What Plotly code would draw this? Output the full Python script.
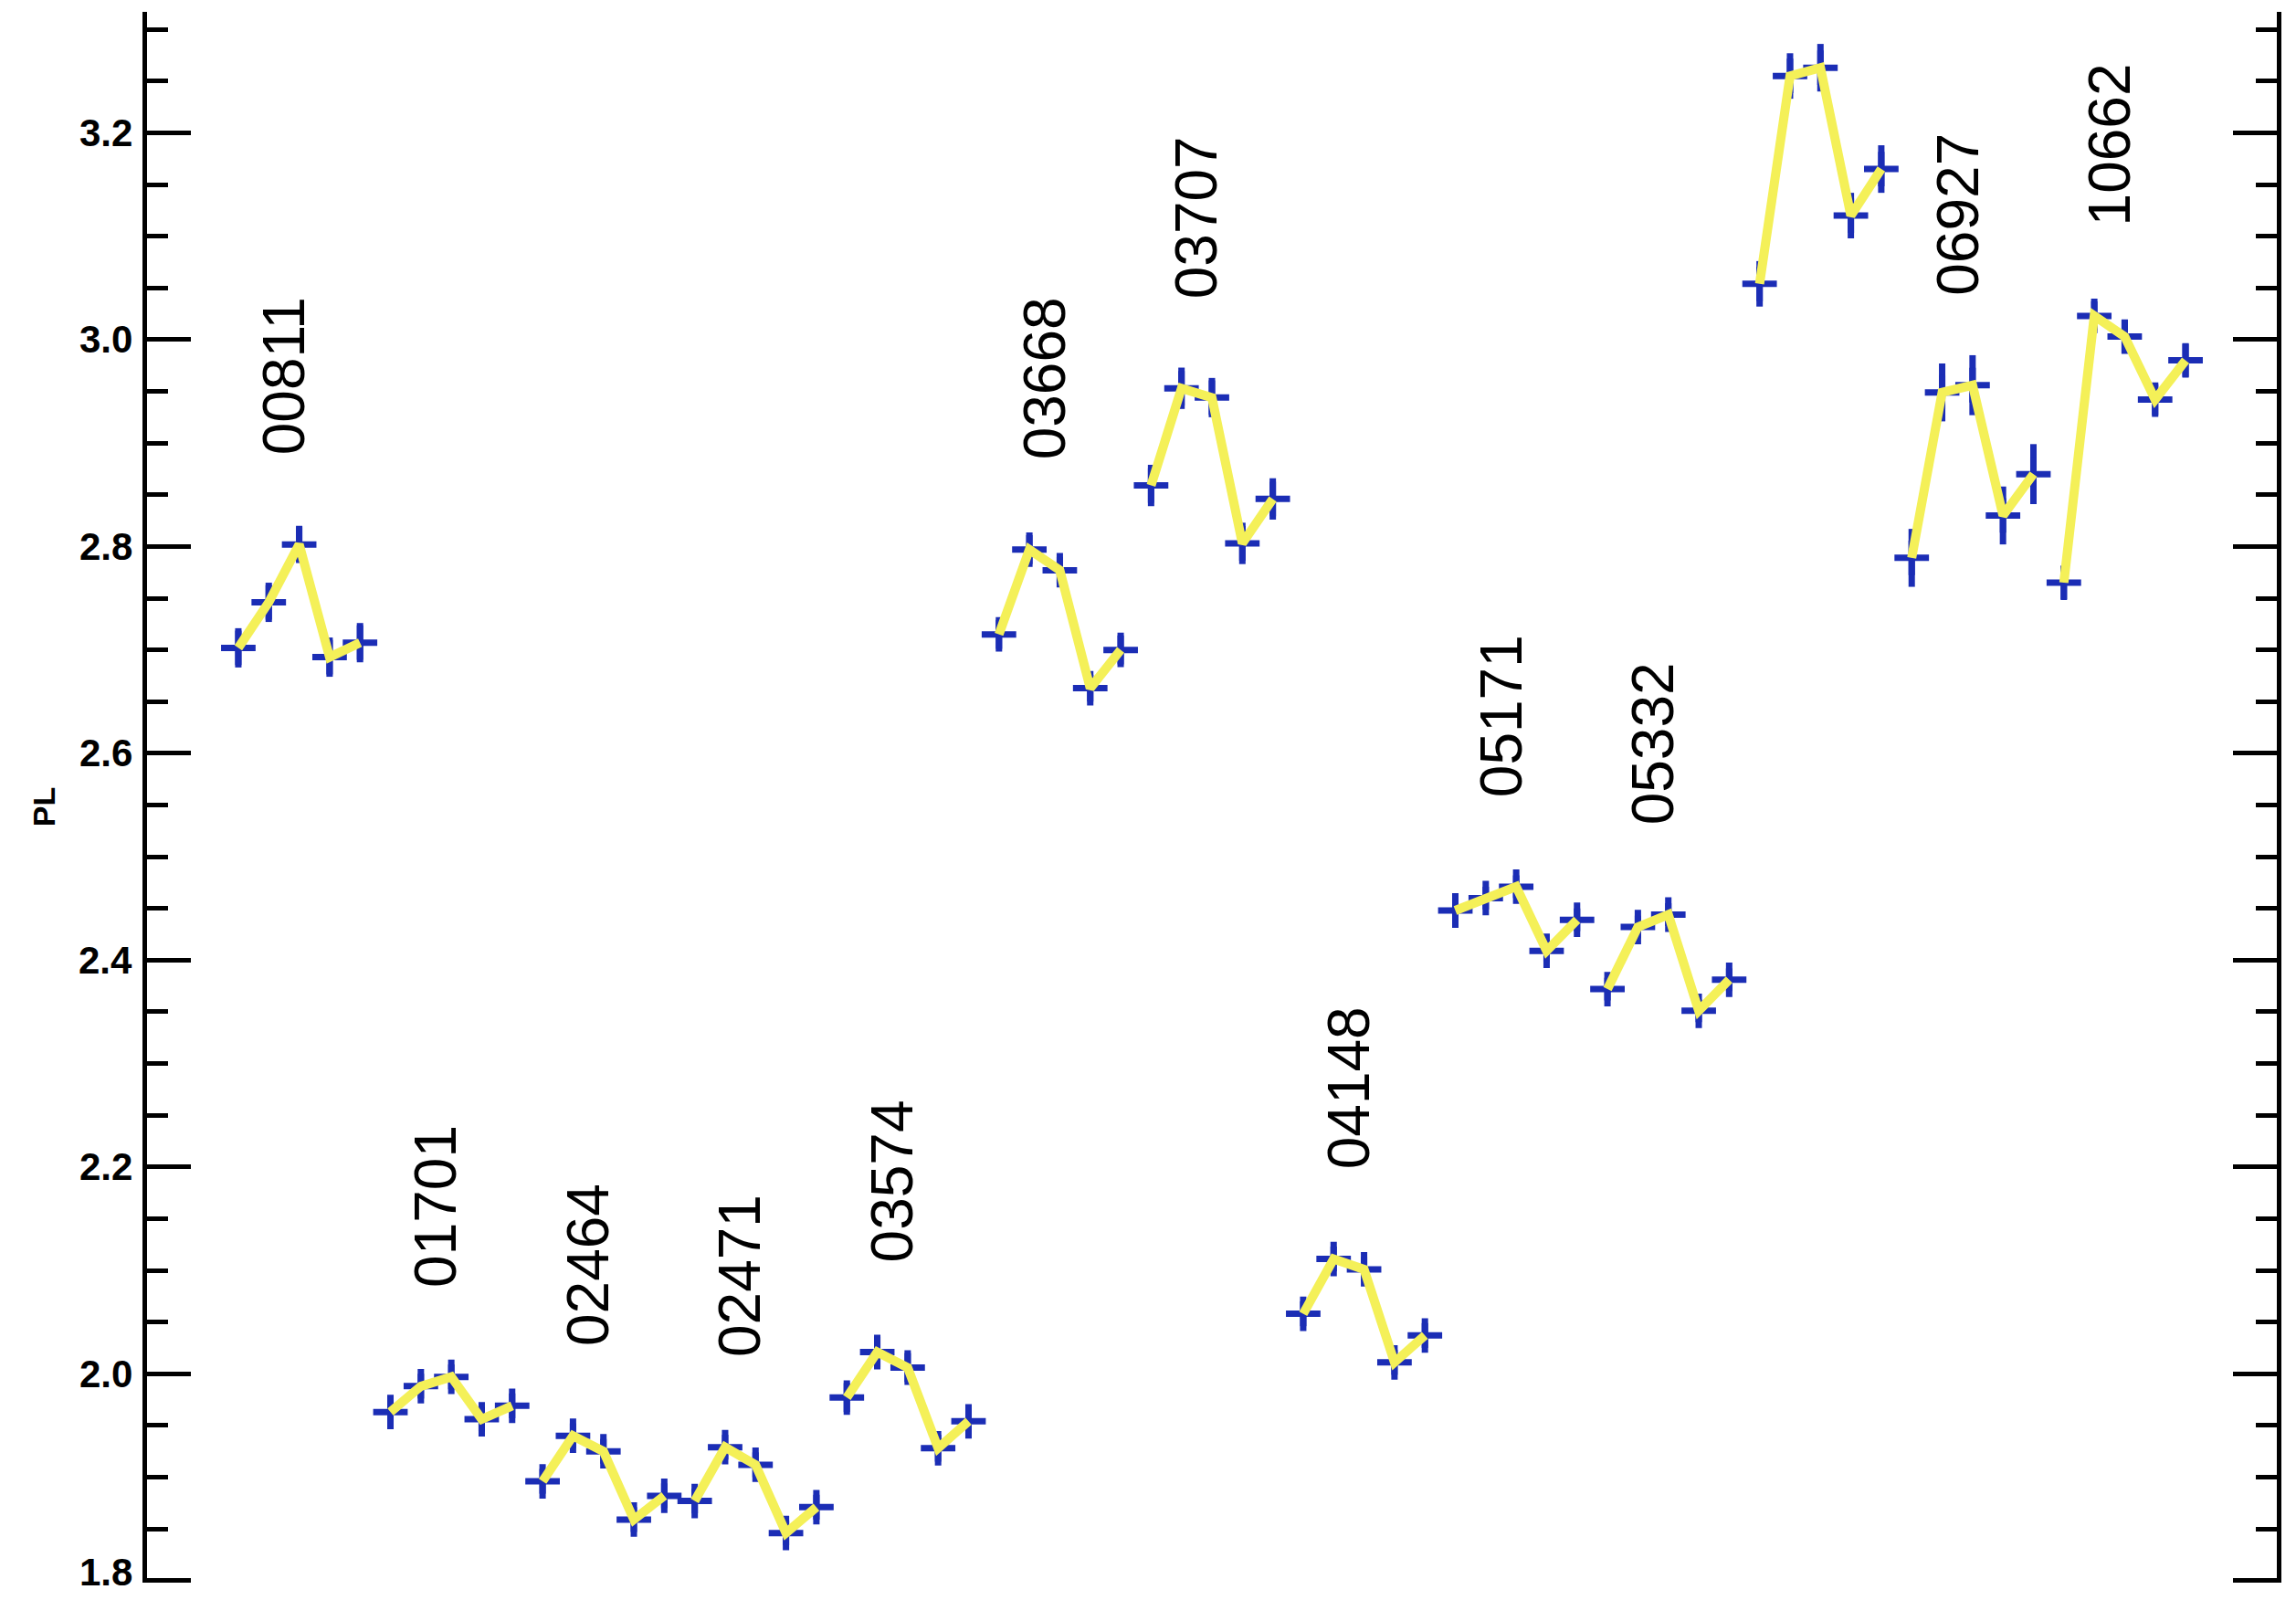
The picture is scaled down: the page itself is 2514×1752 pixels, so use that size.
import plotly.graph_objects as go

# Star identifiers (one group of five phase points each); the eleventh group has no caption
star_ids = ["00811", "01701", "02464", "02471", "03574", "03668", "03707",
            "04148", "05171", "05332", "", "06927", "10662"]

# PL values for the five points of every group
pl_00811 = [2.702, 2.746, 2.802, 2.693, 2.707]
pl_01701 = [1.963, 1.988, 1.997, 1.956, 1.969]
pl_02464 = [1.896, 1.940, 1.925, 1.859, 1.882]
pl_02471 = [1.877, 1.929, 1.912, 1.846, 1.871]
pl_03574 = [1.977, 2.021, 2.006, 1.928, 1.954]
pl_03668 = [2.715, 2.797, 2.777, 2.663, 2.700]
pl_03707 = [2.859, 2.953, 2.944, 2.803, 2.846]
pl_04148 = [2.058, 2.111, 2.101, 2.011, 2.037]
pl_05171 = [2.448, 2.460, 2.471, 2.409, 2.439]
pl_05332 = [2.372, 2.432, 2.444, 2.351, 2.381]
pl_group11 = [3.054, 3.255, 3.263, 3.120, 3.165]
pl_06927 = [2.789, 2.949, 2.956, 2.830, 2.870]
pl_10662 = [2.765, 3.023, 3.003, 2.942, 2.980]

# One-sigma uncertainties of the same points
err_00811 = [0.019, 0.019, 0.018, 0.019, 0.019]
err_01701 = [0.012, 0.012, 0.012, 0.012, 0.012]
err_02464 = [0.012, 0.012, 0.012, 0.012, 0.012]
err_02471 = [0.012, 0.012, 0.012, 0.012, 0.012]
err_03574 = [0.014, 0.015, 0.014, 0.013, 0.013]
err_03668 = [0.014, 0.014, 0.013, 0.013, 0.014]
err_03707 = [0.020, 0.020, 0.019, 0.020, 0.020]
err_04148 = [0.012, 0.012, 0.012, 0.012, 0.012]
err_05171 = [0.011, 0.011, 0.011, 0.011, 0.011]
err_05332 = [0.011, 0.011, 0.011, 0.011, 0.011]
err_group11 = [0.022, 0.022, 0.023, 0.022, 0.023]
err_06927 = [0.028, 0.028, 0.029, 0.028, 0.029]
err_10662 = [0.016, 0.014, 0.016, 0.015, 0.016]

# Y-axis tick labels
y_ticks = [1.8, 2.0, 2.2, 2.4, 2.6, 2.8, 3.0, 3.2]
y_tick_text = ["1.8", "2.0", "2.2", "2.4", "2.6", "2.8", "3.0", "3.2"]

pl_groups = [pl_00811, pl_01701, pl_02464, pl_02471, pl_03574, pl_03668, pl_03707,
             pl_04148, pl_05171, pl_05332, pl_group11, pl_06927, pl_10662]
err_groups = [err_00811, err_01701, err_02464, err_02471, err_03574, err_03668, err_03707,
              err_04148, err_05171, err_05332, err_group11, err_06927, err_10662]

BLUE = "#1b2db5"
YELLOW = "#f4f058"
FONT = "Liberation Sans, Arial, sans-serif"
N = 5

pt_x, pt_y, pt_err = [], [], []
line_x, line_y = [], []
for g, (vals, errs) in enumerate(zip(pl_groups, err_groups)):
    xs = [g * N + k for k in range(N)]
    pt_x += xs
    pt_y += vals
    pt_err += errs
    line_x += xs + [None]
    line_y += vals + [None]

fig = go.Figure()

# blue plus signs with vertical error bars
fig.add_trace(go.Scatter(
    x=pt_x, y=pt_y, mode="markers",
    marker=dict(symbol="cross-thin", size=27, color=BLUE,
                line=dict(color=BLUE, width=7)),
    error_y=dict(type="data", array=pt_err, visible=True,
                 color=BLUE, thickness=7, width=0),
    hoverinfo="skip",
))

# yellow curve joining each group
fig.add_trace(go.Scatter(
    x=line_x, y=line_y, mode="lines",
    line=dict(color=YELLOW, width=10),
    connectgaps=False, hoverinfo="skip",
))

# rotated star captions above every group
for g, (name, vals) in enumerate(zip(star_ids, pl_groups)):
    if not name:
        continue
    fig.add_annotation(
        x=g * N + 1.5, y=max(vals) + 0.085,
        text=name, textangle=-90, showarrow=False,
        xanchor="center", yanchor="bottom",
        font=dict(family=FONT, size=64, color="black"),
    )

# y tick labels, set just left of the axis line (the lowest one nudged up to stay on the page)
for val, txt in zip(y_ticks, y_tick_text):
    fig.add_annotation(
        xref="paper", x=0, y=val, text=txt, showarrow=False,
        xanchor="right", yanchor="middle", xshift=-14,
        yshift=9 if val == y_ticks[0] else 0,
        font=dict(family=FONT, size=42, color="black", weight="bold"),
    )

# axis title
fig.add_annotation(
    xref="paper", yref="paper", x=-0.0485, y=0.494, text="PL",
    textangle=-90, showarrow=False, xanchor="center", yanchor="middle",
    font=dict(family=FONT, size=34, color="black", weight="bold"),
)

fig.update_layout(
    width=2514, height=1752,
    margin=dict(l=161, r=21, t=13, b=19, autoexpand=False),
    paper_bgcolor="white", plot_bgcolor="white",
    showlegend=False,
    xaxis=dict(visible=False, range=[-3, 67]),
    yaxis=dict(
        range=[1.798, 3.317], automargin=False,
        tickmode="array", tickvals=y_ticks, showticklabels=False,
        ticks="inside", ticklen=48, tickwidth=5, tickcolor="black",
        showline=True, linewidth=5, linecolor="black", mirror="ticks",
        showgrid=False, zeroline=False,
        minor=dict(dtick=0.05, tick0=1.8, ticks="inside", ticklen=23,
                   tickwidth=5, tickcolor="black", showgrid=False),
    ),
)

fig.write_html("out.html")
